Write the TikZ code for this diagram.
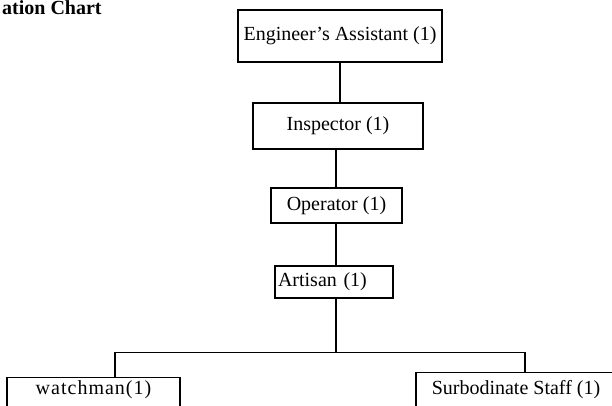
\documentclass[tikz,border=0pt]{standalone}
\usepackage{fontspec}
\setmainfont{Liberation Serif}
\begin{document}
\begin{tikzpicture}[x=1pt,y=-1pt,
  box/.style={draw=black,line width=1.1pt,inner sep=0pt,font=\fontsize{20}{24}\selectfont},
  conn/.style={draw=black,line width=1.4pt}]
\useasboundingbox (0,0) rectangle (612,406);
\clip (0,0) rectangle (612,406);
\fill[white] (0,0) rectangle (612,406);
\node[anchor=base west,inner sep=0pt,font=\fontsize{20}{24}\selectfont\bfseries] (title) at (2,15) {ation Chart};
\node[box,minimum width=204pt,minimum height=52pt] (eng) at (340,36) {Engineer's Assistant (1)};
\node[box,minimum width=170pt,minimum height=46pt] (insp) at (338,126) {Inspector (1)};
\node[box,minimum width=131pt,minimum height=35pt] (oper) at (336.5,205.5) {Operator (1)};
\node[box,text width=112pt,inner xsep=3pt,align=left,minimum height=32pt] (art) at (334,282) {Artisan (1)};
\node[box,minimum width=173pt,text height=13pt,text depth=30pt,inner ysep=4pt,anchor=north] (watch) at (93.5,377) {\addfontfeature{LetterSpace=5}watchman(1)};
\node[box,minimum width=200pt,text height=18pt,text depth=30pt,inner ysep=4pt,anchor=north] (sub) at (516,372) {Surbodinate Staff (1)};
\coordinate (ju) at (336,160);
\coordinate (jl) at (115,352);
\coordinate (jr) at (525,352);
\coordinate (jm) at (336,352);
\draw[conn] (eng.south) -- (eng.south |- insp.north);
\draw[conn] (ju |- insp.south) -- (ju |- oper.north);
\draw[conn] (ju |- oper.south) -- (ju |- art.north);
\draw[conn] (jm |- art.south) -- (jm);
\draw[conn,line width=1pt] (jl) -- (jr);
\draw[conn] (jl) -- (jl |- watch.north);
\draw[conn] (jr) -- (jr |- sub.north);
\end{tikzpicture}
\end{document}
